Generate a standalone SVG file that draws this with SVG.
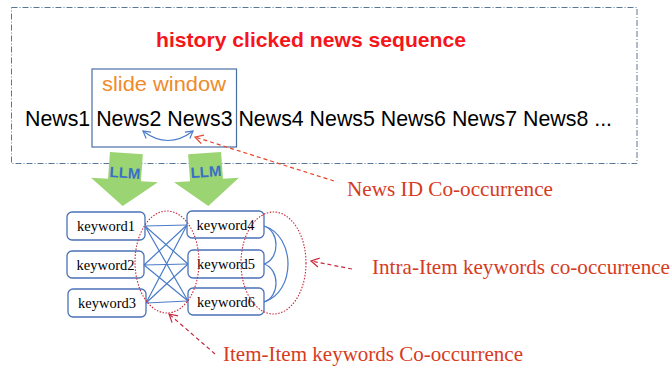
<svg xmlns="http://www.w3.org/2000/svg" width="672" height="369" viewBox="0 0 672 369">
<style>
.news{font-family:"Liberation Sans",Arial,sans-serif;font-size:21.3px;fill:#000}
.kw{fill:#fff;stroke:#4a72b8;stroke-width:1.3}
.kwt{font-family:"Liberation Serif","Times New Roman",serif;font-size:14.5px;fill:#000;text-anchor:middle}
.lab{font-family:"Liberation Serif","Times New Roman",serif;font-size:21px;fill:#d63b1e}
.link{stroke:#4a7cc9;stroke-width:1.2;fill:none}
.ell{fill:none;stroke:#c8283a;stroke-width:1.1;stroke-dasharray:1.5 1.5}
.llm{fill:#9bd472}
.llmt{font-family:"Liberation Sans",Arial,sans-serif;font-weight:bold;font-size:15px;fill:#3a6fc8;text-anchor:middle}
</style>
<defs>
<marker id="ob" markerWidth="10" markerHeight="10" refX="8" refY="5" orient="auto-start-reverse" markerUnits="userSpaceOnUse"><path d="M1,1 L8,5 L1,9" fill="none" stroke="#4a7cc9" stroke-width="1.2"/></marker>
<marker id="or" markerWidth="12" markerHeight="12" refX="9" refY="6" orient="auto" markerUnits="userSpaceOnUse"><path d="M1,1.5 L9,6 L1,10.5" fill="none" stroke="#e8432a" stroke-width="1.2"/></marker>
<marker id="odr" markerWidth="12" markerHeight="12" refX="9" refY="6" orient="auto" markerUnits="userSpaceOnUse"><path d="M1,1.5 L9,6 L1,10.5" fill="none" stroke="#c8283a" stroke-width="1.2"/></marker>
</defs>
<rect width="672" height="369" fill="#fff"/>
<g id="sequence-box">
<rect x="11.5" y="7.5" width="625.5" height="156" fill="none" stroke="#5a7895" stroke-width="1" stroke-dasharray="6 2 1 2"/>
<text x="156" y="47" font-family="Liberation Sans,Arial,sans-serif" font-weight="bold" font-size="21px" fill="#f5151a" textLength="310" lengthAdjust="spacingAndGlyphs">history clicked news sequence</text>
</g>
<g id="slide-window">
<rect x="92" y="69" width="144.5" height="78" fill="none" stroke="#4a6fa5" stroke-width="1.2"/>
<text x="102" y="91" font-family="Liberation Sans,Arial,sans-serif" font-size="21px" fill="#f08a2a" textLength="124" lengthAdjust="spacingAndGlyphs">slide window</text>
</g>
<g id="news-row">
<text class="news" x="25" y="126" textLength="587" lengthAdjust="spacingAndGlyphs">News1 News2 News3 News4 News5 News6 News7 News8 ...</text>
</g>
<g id="llm1" transform="rotate(4 124.5 180)">
<polygon class="llm" points="108,153 141,153 141,180 158,180 124.5,206 91,180 108,180"/>
<text class="llmt" x="124.5" y="178">LLM</text>
</g>
<g id="llm2" transform="rotate(-4 206.5 180)">
<polygon class="llm" points="190,153 223,153 223,180 239,180 206.5,206 174,180 190,180"/>
<text class="llmt" x="206.5" y="177">LLM</text>
</g>
<g id="keyword1"><rect class="kw" x="67" y="212" width="78" height="28" rx="5"/><text class="kwt" x="106" y="231">keyword1</text></g>
<g id="keyword2"><rect class="kw" x="67" y="251" width="77" height="27" rx="5"/><text class="kwt" x="105.5" y="269.5">keyword2</text></g>
<g id="keyword3"><rect class="kw" x="68" y="289" width="78" height="28" rx="5"/><text class="kwt" x="107" y="308">keyword3</text></g>
<g id="keyword4"><rect class="kw" x="187" y="211" width="77" height="27" rx="5"/><text class="kwt" x="225.5" y="229.5">keyword4</text></g>
<g id="keyword5"><rect class="kw" x="188" y="250" width="76" height="28" rx="5"/><text class="kwt" x="226" y="269">keyword5</text></g>
<g id="keyword6"><rect class="kw" x="188" y="288" width="76" height="27" rx="5"/><text class="kwt" x="226" y="306.5">keyword6</text></g>
<g id="connectors">
<path class="link" d="M143,131 Q168,150 193,131" marker-start="url(#ob)" marker-end="url(#ob)"/>
<path d="M334,181 L195,137" fill="none" stroke="#e8432a" stroke-width="1.2" stroke-dasharray="4 3" marker-end="url(#or)"/>
<g class="link">
<path d="M145,226 L187,225 M145,226 L188,264 M145,226 L188,301"/>
<path d="M144,265 L187,225 M144,265 L188,264 M144,265 L188,301"/>
<path d="M146,303 L187,225 M146,303 L188,264 M146,303 L188,301"/>
<path d="M264,226 C280,231 280,259 264,264"/>
<path d="M264,264 C280,269 280,297 264,302"/>
<path d="M264,226 C296,236 296,292 264,302"/>
</g>
<ellipse class="ell" cx="167" cy="262" rx="32" ry="51"/>
<ellipse class="ell" cx="273.5" cy="263" rx="32.5" ry="51"/>
<path d="M352,269 L311,261" fill="none" stroke="#c8283a" stroke-width="1.2" stroke-dasharray="4 3" marker-end="url(#odr)"/>
<path d="M215,354 L169,314" fill="none" stroke="#c8283a" stroke-width="1.2" stroke-dasharray="4 3" marker-end="url(#odr)"/>
</g>
<g id="labels">
<text class="lab" x="347" y="196" textLength="206" lengthAdjust="spacingAndGlyphs">News ID Co-occurrence</text>
<text class="lab" x="372" y="274" textLength="298" lengthAdjust="spacingAndGlyphs">Intra-Item keywords co-occurrence</text>
<text class="lab" x="223" y="361" textLength="300" lengthAdjust="spacingAndGlyphs">Item-Item keywords Co-occurrence</text>
</g>
</svg>
